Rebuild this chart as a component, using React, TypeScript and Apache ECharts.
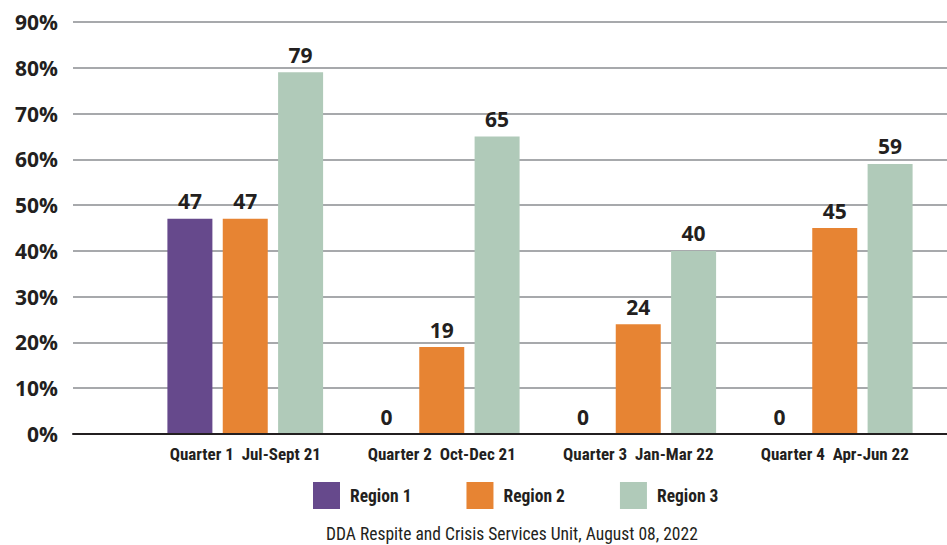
import React, { useEffect, useRef } from "react";
import * as echarts from "echarts";

const categories = [
  "Quarter 1  Jul-Sept 21",
  "Quarter 2  Oct-Dec 21",
  "Quarter 3  Jan-Mar 22",
  "Quarter 4  Apr-Jun 22",
];
const region1 = [47, 0, 0, 0];
const region2 = [47, 19, 24, 45];
const region3 = [79, 65, 40, 59];
const seriesNames = ["Region 1", "Region 2", "Region 3"];
const colors = ["#66498c", "#e78433", "#b0cab9"];
const caption = "DDA Respite and Crisis Services Unit, August 08, 2022";

const NARROW = '"Liberation Sans Narrow", "Roboto Condensed", "Open Sans", sans-serif';
const BOLD = '"Open Sans", "Noto Sans", sans-serif';
const INK = "#231f20";

export default function App() {
  const ref = useRef<HTMLDivElement>(null);
  useEffect(() => {
    if (!ref.current) return;
    const chart = echarts.init(ref.current, undefined, { renderer: "svg" });
    const data = [region1, region2, region3];
    chart.setOption({
      animation: false,
      backgroundColor: "#ffffff",
      title: {
        text: caption,
        left: 326,
        top: 525,
        padding: 0,
        textStyle: { fontFamily: NARROW, fontSize: 17.5, fontWeight: "normal", color: INK, lineHeight: 18 },
      },
      legend: {
        data: seriesNames,
        left: 313,
        top: 482,
        padding: 0,
        itemWidth: 27,
        itemHeight: 27,
        itemGap: 55,
        icon: "rect",
        textStyle: { fontFamily: NARROW, fontSize: 17.5, fontWeight: "bold", color: INK, padding: [0, 0, 0, 5] },
      },
      grid: [
        { left: 73, right: 0, top: 22, bottom: 111 },
        { left: 147, right: 14, top: 22, bottom: 111 },
      ],
      xAxis: [
        {
          gridIndex: 0,
          type: "category",
          data: ["a"],
          axisLine: { show: true, lineStyle: { color: INK, width: 2 } },
          axisTick: { show: false },
          axisLabel: { show: false },
          splitLine: { show: false },
          z: 5,
        },
        {
          gridIndex: 1,
          type: "category",
          data: categories,
          axisLine: { show: false },
          axisTick: { show: false },
          axisLabel: {
            fontFamily: NARROW,
            fontSize: 17,
            fontWeight: "bold",
            color: INK,
            margin: 11,
          },
        },
      ],
      yAxis: [
        {
          gridIndex: 0,
          type: "value",
          min: 0,
          max: 90,
          interval: 10,
          axisLine: { show: false },
          axisTick: { show: false },
          axisLabel: {
            formatter: "{value}%",
            fontFamily: BOLD,
            fontSize: 21,
            fontWeight: "bold",
            color: INK,
            margin: 15,
          },
          splitLine: { lineStyle: { color: "#a7a9ac", width: 2 } },
        },
        {
          gridIndex: 1,
          type: "value",
          min: 0,
          max: 90,
          interval: 10,
          show: false,
          splitLine: { show: false },
        },
      ],
      series: seriesNames.map((name, i) => ({
        name,
        type: "bar",
        xAxisIndex: 1,
        yAxisIndex: 1,
        data: data[i],
        barWidth: 45,
        barGap: "23%",
        itemStyle: { color: colors[i] },
        label: {
          show: true,
          position: "top",
          distance: 7,
          fontFamily: BOLD,
          fontSize: 21,
          fontWeight: "bold",
          color: INK,
        },
        z: 3,
      })),
    });
    return () => chart.dispose();
  }, []);
  return <div ref={ref} style={{ width: 947, height: 545, position: "absolute", left: 0, top: 0 }} />;
}
